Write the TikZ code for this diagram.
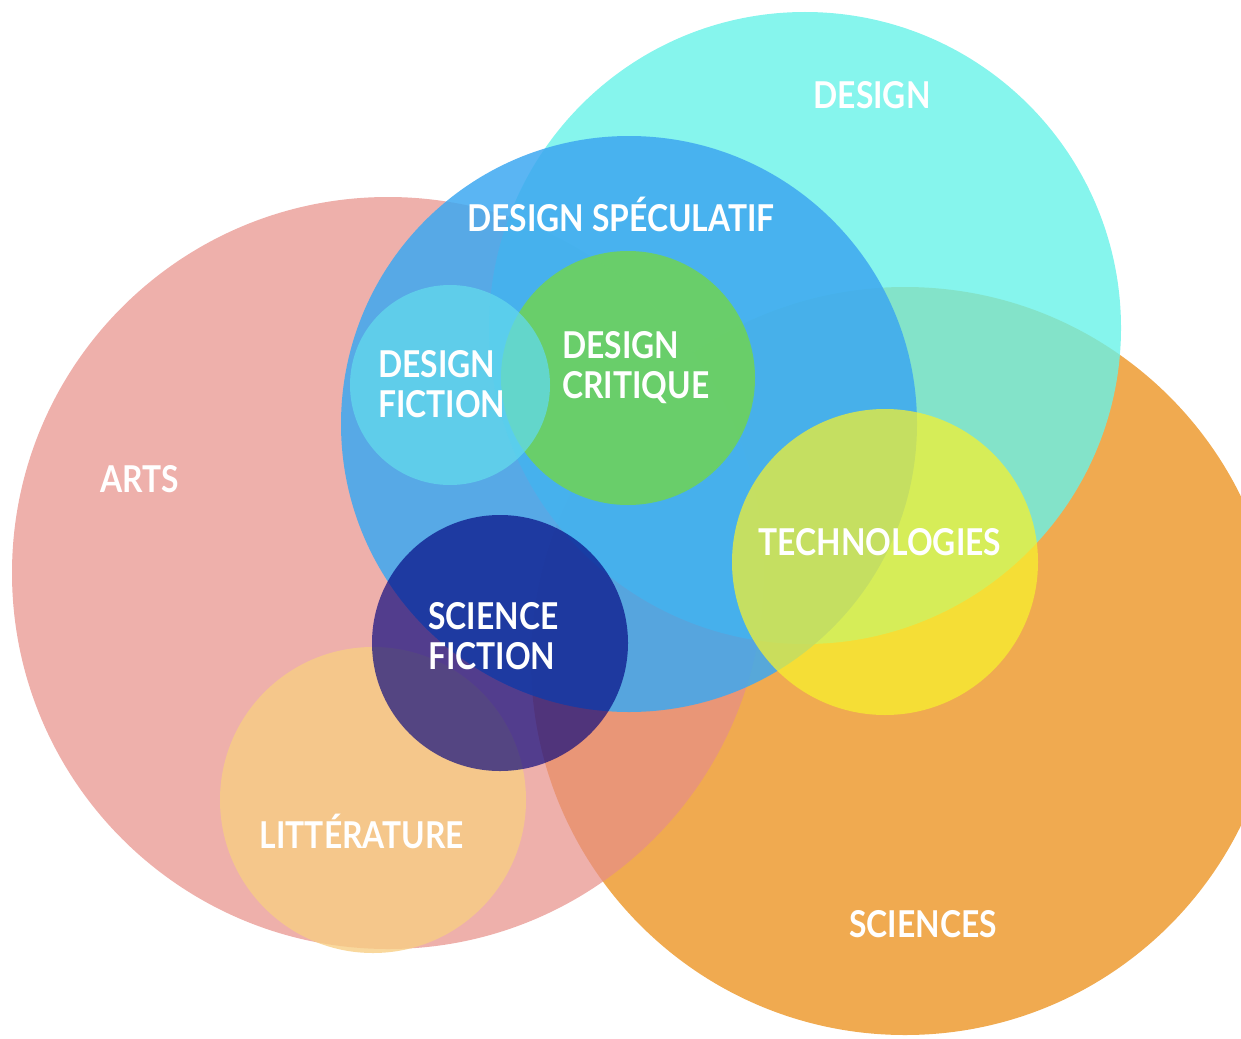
\documentclass[tikz,border=0pt]{standalone}
\usepackage{fontspec}
\setmainfont{Lato}[FakeStretch=0.86]
\definecolor{artscol}{HTML}{E78E88}
\definecolor{sciencescol}{HTML}{EC9524}
\definecolor{designcol}{HTML}{68F2E8}
\definecolor{speccol}{HTML}{3DA8F1}
\definecolor{littcol}{HTML}{F7CE84}
\definecolor{fictioncol}{HTML}{62D9EC}
\definecolor{critiquecol}{HTML}{6DD25C}
\definecolor{technocol}{HTML}{F7F22D}
\definecolor{scificol}{HTML}{00007E}
\begin{document}
\begin{tikzpicture}[x=1pt,y=-1pt,
	lbl/.style={text=white,font=\bfseries\fontsize{37}{40}\selectfont,align=left,inner sep=0pt}]
	\useasboundingbox (0,0) rectangle (1241,1038);
	\clip (0,0) rectangle (1241,1038);
	% big fields
	\fill[sciencescol,fill opacity=.8] (905,661) circle (374pt);
	\fill[artscol,fill opacity=.7] (388,573) circle (376pt);
	\fill[designcol,fill opacity=.8] (805,328) circle (316pt);
	\fill[speccol,fill opacity=.85] (629,424) circle (288pt);
	% small fields
	\fill[littcol,fill opacity=.8] (373,800) circle (153pt);
	\fill[critiquecol,fill opacity=.9] (628,378) circle (127pt);
	\fill[fictioncol,fill opacity=.75] (450,385) circle (100pt);
	\fill[technocol,fill opacity=.72] (885,562) circle (153pt);
	\fill[scificol,fill opacity=.65] (500,643) circle (128pt);
	% labels
	\node[lbl] (design) at (872,95) {DESIGN};
	\node[lbl] (spec) at (621,214) {DESIGN SPÉCULATIF};
	\node[lbl,anchor=west] (fiction) at (378,384) {DESIGN\\FICTION};
	\node[lbl,anchor=west] (critique) at (562,368) {DESIGN\\CRITIQUE};
	\node[lbl] (arts) at (140,479) {ARTS};
	\node[lbl] (techno) at (880,542) {TECHNOLOGIES};
	\node[lbl,anchor=west] (scifi) at (428,636) {SCIENCE\\FICTION};
	\node[lbl] (litt) at (362,831) {LITTÉRATURE};
	\node[lbl] (sciences) at (923,924) {SCIENCES};
\end{tikzpicture}
\end{document}
